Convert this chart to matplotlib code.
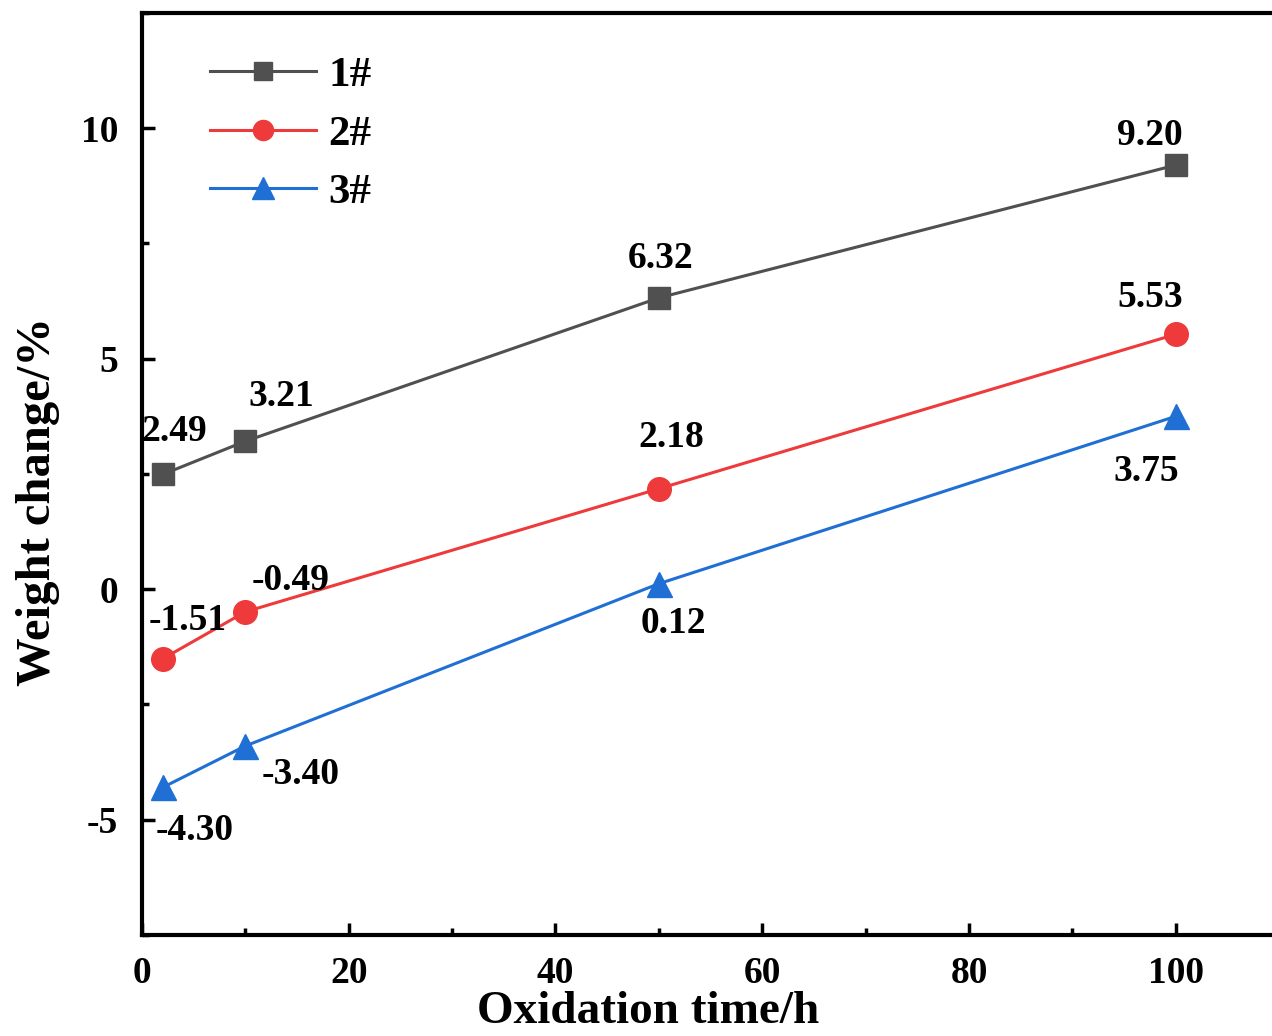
import matplotlib
matplotlib.use("Agg")
import matplotlib.pyplot as plt
from matplotlib.ticker import MultipleLocator

plt.rcParams['font.family'] = ['Liberation Serif', 'DejaVu Serif']
plt.rcParams['font.weight'] = 'bold'
plt.rcParams['axes.unicode_minus'] = False

time_h = [2, 10, 50, 100]
s1 = [2.49, 3.21, 6.32, 9.20]
s2 = [-1.51, -0.49, 2.18, 5.53]
s3 = [-4.30, -3.40, 0.12, 3.75]
series_names = ["1#", "2#", "3#"]
label_text1 = ["2.49", "3.21", "6.32", "9.20"]
label_text2 = ["-1.51", "-0.49", "2.18", "5.53"]
label_text3 = ["-4.30", "-3.40", "0.12", "3.75"]

fig = plt.figure(figsize=(12.72, 10.36), dpi=100)
ax = fig.add_axes([0.1116, 0.0975, 0.894, 0.8900])

c1, c2, c3 = '#505050', '#ee3a3a', '#1f6fd4'
ax.plot(time_h, s1, '-', color=c1, lw=2.2, marker='s', ms=16, label=series_names[0])
ax.plot(time_h, s2, '-', color=c2, lw=2.2, marker='o', ms=17, label=series_names[1])
ax.plot(time_h, s3, '-', color=c3, lw=2.2, marker='^', ms=18, label=series_names[2])

off1 = [(12, 43), (36, 45), (2, 39), (-26, 30)]
off2 = [(25, 38), (45, 31), (12, 51), (-26, 37)]
off3 = [(32, -43), (55, -29), (15, -40), (-29, -55)]
for ys, txts, offs in [(s1, label_text1, off1), (s2, label_text2, off2), (s3, label_text3, off3)]:
    for x, y, t, o in zip(time_h, ys, txts, offs):
        ax.annotate(t, (x, y), xytext=o, textcoords='offset pixels',
                    ha='center', va='center', fontsize=27, fontweight='bold', color='black')

ax.set_xlim(0, 110)
ax.set_ylim(-7.5, 12.5)
ax.xaxis.set_major_locator(MultipleLocator(20))
ax.xaxis.set_minor_locator(MultipleLocator(10))
ax.yaxis.set_major_locator(MultipleLocator(5))
ax.yaxis.set_minor_locator(MultipleLocator(2.5))
ax.tick_params(which='both', direction='in', width=2.5, labelsize=27, top=False, right=False)
ax.tick_params(which='major', length=9)
ax.tick_params(axis='x', which='major', pad=15)
ax.tick_params(axis='y', which='major', pad=17)
ax.tick_params(which='minor', length=5)
for lab in ax.get_xticklabels() + ax.get_yticklabels():
    lab.set_fontweight('bold')
for sp in ax.spines.values():
    sp.set_linewidth(3)

ax.set_xlabel('Oxidation time/h', fontsize=34, fontweight='bold')
ax.set_ylabel('Weight change/%', fontsize=35, fontweight='bold')
ax.xaxis.set_label_coords(0.445, -0.061)
ax.yaxis.set_label_coords(-0.072, 0.47)

leg = ax.legend(loc='upper left', bbox_to_anchor=(0.026, 0.995), frameon=False,
                fontsize=31, handlelength=2.45, handletextpad=0.3, labelspacing=0.45,
                markerscale=0.85)

fig.savefig('out.png', dpi=100)
